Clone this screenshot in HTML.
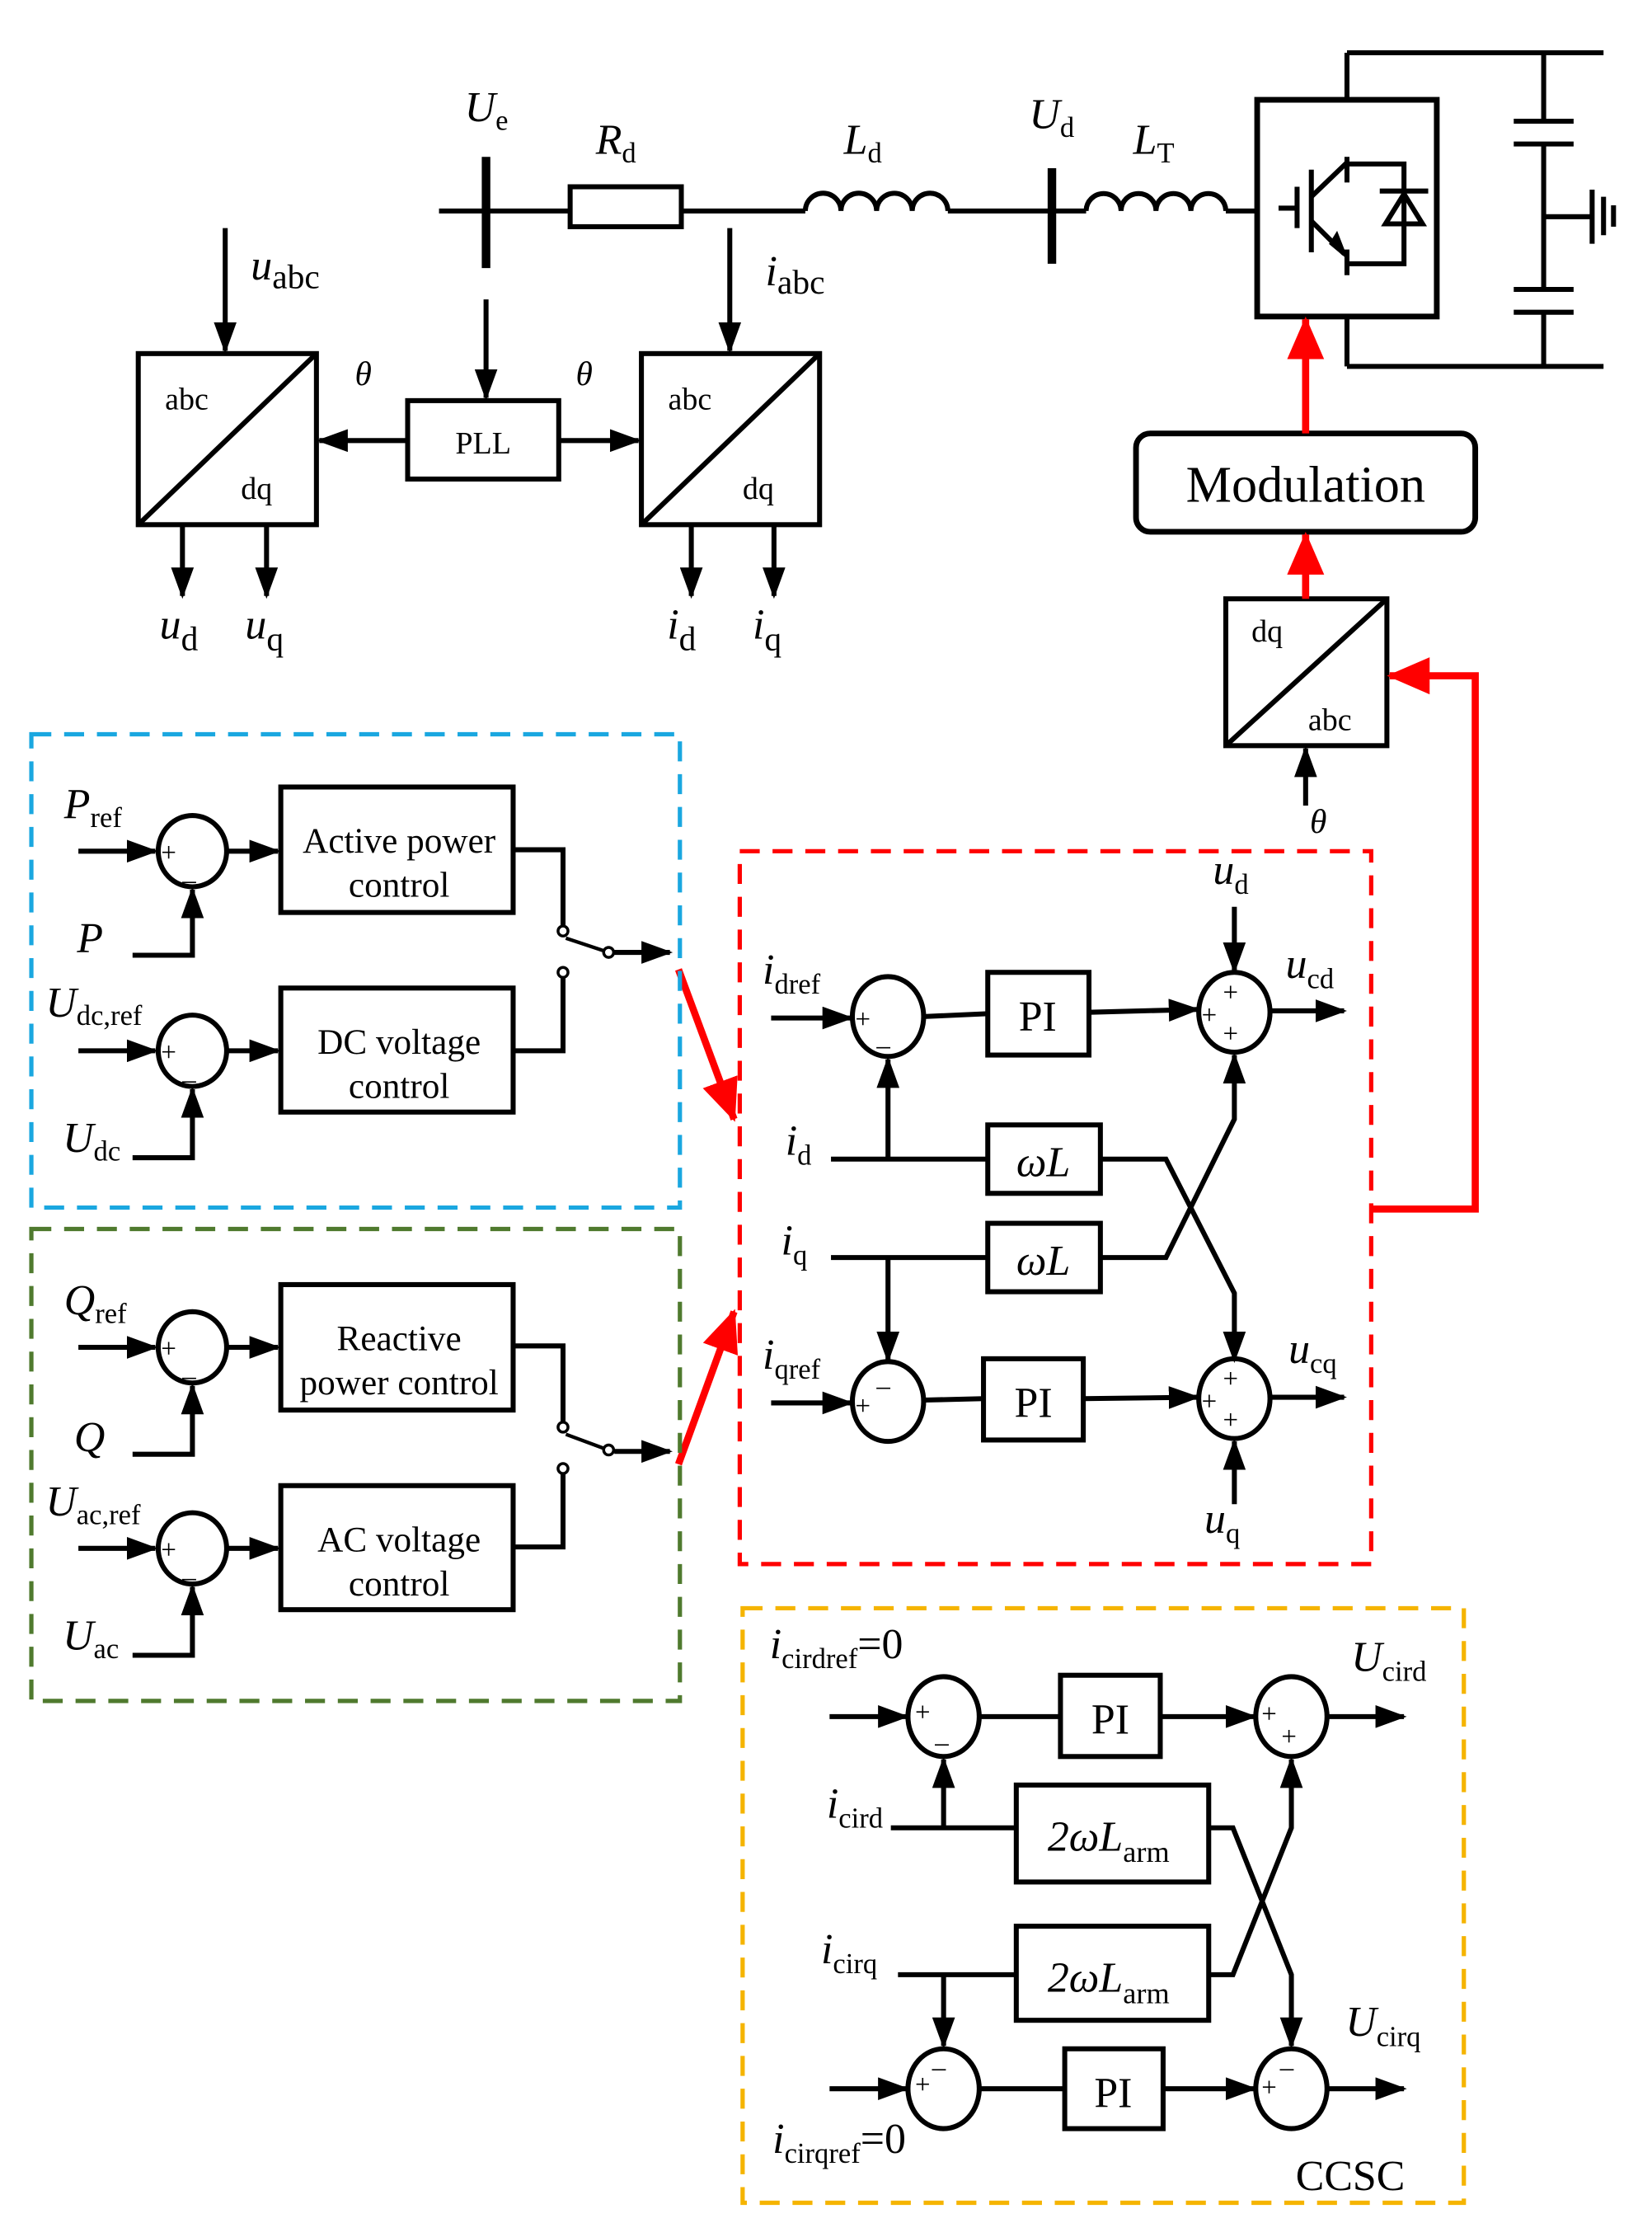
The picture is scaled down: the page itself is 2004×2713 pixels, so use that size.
<!DOCTYPE html>
<html><head><meta charset="utf-8"><style>
html,body{margin:0;padding:0;background:#fff;}
svg{display:block;}
text{font-family:"Liberation Serif",serif;fill:#000;}
.i{font-style:italic;}
</style></head><body>
<svg width="2004" height="2713" viewBox="0 0 1159 1569" preserveAspectRatio="none" xmlns="http://www.w3.org/2000/svg">
<defs>
<marker id="a" markerUnits="userSpaceOnUse" markerWidth="22" markerHeight="16" refX="20" refY="8" orient="auto"><path d="M0,0 L22,8 L0,16 Z" fill="#000"/></marker>
<marker id="r" markerUnits="userSpaceOnUse" markerWidth="30" markerHeight="26" refX="28" refY="13" orient="auto"><path d="M0,0 L30,13 L0,26 Z" fill="#f00"/></marker>
</defs>
<g stroke="#000" stroke-width="3.5" fill="none">
<line x1="308" y1="148" x2="400" y2="148"/>
<rect x="400" y="131" width="78" height="28"/>
<line x1="478" y1="148" x2="565" y2="148"/>
<path d="M565,148 a12,12 0 0 1 25,0 a12,12 0 0 1 25,0 a12,12 0 0 1 25,0 a12,12 0 0 1 25,0"/>
<line x1="665" y1="148" x2="762" y2="148"/>
<path d="M762,148 a12,12 0 0 1 24.5,0 a12,12 0 0 1 24.5,0 a12,12 0 0 1 24.5,0 a12,12 0 0 1 24.5,0"/>
<line x1="860" y1="148" x2="882" y2="148"/>
<line x1="341" y1="110" x2="341" y2="188" stroke-width="6"/>
<line x1="738" y1="118" x2="738" y2="185" stroke-width="6"/>
<rect x="882" y="70" width="126" height="152" stroke-width="4"/>
<line x1="945" y1="37" x2="945" y2="70"/><line x1="945" y1="37" x2="1125" y2="37"/>
<line x1="945" y1="222" x2="945" y2="257"/><line x1="945" y1="257" x2="1125" y2="257"/>
<line x1="1083" y1="37" x2="1083" y2="85"/><line x1="1083" y1="101" x2="1083" y2="203"/><line x1="1083" y1="219" x2="1083" y2="257"/>
<line x1="1062" y1="85" x2="1104" y2="85"/><line x1="1062" y1="101" x2="1104" y2="101"/>
<line x1="1062" y1="203" x2="1104" y2="203"/><line x1="1062" y1="219" x2="1104" y2="219"/>
<line x1="1083" y1="152" x2="1117" y2="152"/>
<line x1="1117" y1="133" x2="1117" y2="171"/><line x1="1125" y1="138" x2="1125" y2="165"/><line x1="1132" y1="144" x2="1132" y2="159"/>
<line x1="897" y1="146" x2="910" y2="146"/><line x1="910" y1="131" x2="910" y2="160"/>
<line x1="920" y1="119" x2="920" y2="177"/>
<line x1="920" y1="138" x2="945" y2="114"/><line x1="945" y1="110" x2="945" y2="128"/>
<line x1="920" y1="155" x2="943" y2="178"/><line x1="945" y1="175" x2="945" y2="193"/>
<path d="M933,171 L945,181 L938,163 Z" fill="#000" stroke-width="1"/>
<path d="M945,115 L985,115 L985,185 L945,185"/>
<line x1="968" y1="134" x2="1002" y2="134"/>
<path d="M985,136 L972,157 L998,157 Z"/>
<rect x="97" y="248" width="125" height="120"/><line x1="97" y1="368" x2="222" y2="248"/>
<rect x="450" y="248" width="125" height="120"/><line x1="450" y1="368" x2="575" y2="248"/>
<rect x="286" y="281" width="106" height="55"/>
<line x1="286" y1="309" x2="224" y2="309" marker-end="url(#a)"/>
<line x1="392" y1="309" x2="448" y2="309" marker-end="url(#a)"/>
<line x1="341" y1="210" x2="341" y2="279" marker-end="url(#a)"/>
<line x1="158" y1="160" x2="158" y2="246" marker-end="url(#a)"/>
<line x1="512" y1="160" x2="512" y2="246" marker-end="url(#a)"/>
<line x1="128" y1="368" x2="128" y2="418" marker-end="url(#a)"/>
<line x1="187" y1="368" x2="187" y2="418" marker-end="url(#a)"/>
<line x1="485" y1="368" x2="485" y2="418" marker-end="url(#a)"/>
<line x1="543" y1="368" x2="543" y2="418" marker-end="url(#a)"/>
<rect x="797" y="304" width="238" height="69" rx="10" stroke-width="4"/>
<rect x="860" y="420" width="113" height="103"/><line x1="860" y1="523" x2="973" y2="420"/>
<line x1="916" y1="565" x2="916" y2="525" marker-end="url(#a)"/>
</g>
<g stroke="#f00" stroke-width="5" fill="none">
<line x1="916" y1="304" x2="916" y2="224" marker-end="url(#r)"/>
<line x1="916" y1="420" x2="916" y2="375" marker-end="url(#r)"/>
<polyline points="962,848 1035,848 1035,474 975,474" marker-end="url(#r)"/>
<line x1="476" y1="680" x2="515" y2="785" marker-end="url(#r)"/>
<line x1="476" y1="1027" x2="515" y2="920" marker-end="url(#r)"/>
</g>
<g fill="none" stroke-width="3" stroke-dasharray="14,9">
<rect x="22" y="515" width="455" height="332" stroke="#1aa7e0"/>
<rect x="22" y="862" width="455" height="331" stroke="#4f7a2e"/>
<rect x="519" y="597" width="443" height="500" stroke="#f00"/>
<rect x="521" y="1128" width="506" height="417" stroke="#f5b400"/>
</g>
<g stroke="#000" stroke-width="3.5" fill="none">
<ellipse cx="135" cy="597" rx="24" ry="25"/>
<line x1="55" y1="597" x2="109" y2="597" marker-end="url(#a)"/>
<polyline points="93,670 135,670 135,624" marker-end="url(#a)"/>
<line x1="159" y1="597" x2="195" y2="597" marker-end="url(#a)"/>
<rect x="197" y="552" width="163" height="88"/>
<ellipse cx="135" cy="737" rx="24" ry="25"/>
<line x1="55" y1="737" x2="109" y2="737" marker-end="url(#a)"/>
<polyline points="93,812 135,812 135,764" marker-end="url(#a)"/>
<line x1="159" y1="737" x2="195" y2="737" marker-end="url(#a)"/>
<rect x="197" y="693" width="163" height="87"/>
<polyline points="360,596 395,596 395,649"/>
<polyline points="360,737 395,737 395,686"/>
<circle cx="395" cy="653" r="3.5" stroke-width="2"/><circle cx="395" cy="682" r="3.5" stroke-width="2"/>
<circle cx="427" cy="668" r="3.5" stroke-width="2"/>
<line x1="397" y1="658" x2="424" y2="667" stroke-width="2.5"/>
<line x1="431" y1="668" x2="470" y2="668" marker-end="url(#a)"/>
<ellipse cx="135" cy="945" rx="24" ry="25"/>
<line x1="55" y1="945" x2="109" y2="945" marker-end="url(#a)"/>
<polyline points="93,1020 135,1020 135,972" marker-end="url(#a)"/>
<line x1="159" y1="945" x2="195" y2="945" marker-end="url(#a)"/>
<rect x="197" y="901" width="163" height="88"/>
<ellipse cx="135" cy="1086" rx="24" ry="25"/>
<line x1="55" y1="1086" x2="109" y2="1086" marker-end="url(#a)"/>
<polyline points="93,1161 135,1161 135,1113" marker-end="url(#a)"/>
<line x1="159" y1="1086" x2="195" y2="1086" marker-end="url(#a)"/>
<rect x="197" y="1042" width="163" height="87"/>
<polyline points="360,944 395,944 395,997"/>
<polyline points="360,1085 395,1085 395,1034"/>
<circle cx="395" cy="1001" r="3.5" stroke-width="2"/><circle cx="395" cy="1030" r="3.5" stroke-width="2"/>
<circle cx="427" cy="1017" r="3.5" stroke-width="2"/>
<line x1="397" y1="1006" x2="424" y2="1016" stroke-width="2.5"/>
<line x1="431" y1="1018" x2="470" y2="1018" marker-end="url(#a)"/>
<ellipse cx="623" cy="713" rx="25" ry="28"/>
<line x1="541" y1="714" x2="597" y2="714" marker-end="url(#a)"/>
<line x1="648" y1="713" x2="693" y2="711"/>
<rect x="693" y="682" width="71" height="58"/>
<line x1="764" y1="710" x2="840" y2="708" marker-end="url(#a)"/>
<ellipse cx="866" cy="710" rx="25" ry="28"/>
<line x1="891" y1="709" x2="943" y2="709" marker-end="url(#a)"/>
<line x1="866" y1="636" x2="866" y2="681" marker-end="url(#a)"/>
<line x1="583" y1="813" x2="693" y2="813"/>
<line x1="623" y1="813" x2="623" y2="743" marker-end="url(#a)"/>
<rect x="693" y="789" width="79" height="48"/>
<line x1="583" y1="882" x2="693" y2="882"/>
<line x1="623" y1="882" x2="623" y2="954" marker-end="url(#a)"/>
<rect x="693" y="858" width="79" height="48"/>
<polyline points="772,813 818,813 866,907 866,954" marker-end="url(#a)"/>
<polyline points="772,882 818,882 866,785 866,740" marker-end="url(#a)"/>
<ellipse cx="623" cy="983" rx="25" ry="28"/>
<line x1="541" y1="984" x2="597" y2="984" marker-end="url(#a)"/>
<line x1="648" y1="982" x2="690" y2="981"/>
<rect x="690" y="953" width="70" height="57"/>
<line x1="760" y1="981" x2="840" y2="980" marker-end="url(#a)"/>
<ellipse cx="866" cy="981" rx="25" ry="28"/>
<line x1="891" y1="980" x2="943" y2="980" marker-end="url(#a)"/>
<line x1="866" y1="1055" x2="866" y2="1011" marker-end="url(#a)"/>
<ellipse cx="662" cy="1204" rx="25" ry="28"/>
<line x1="582" y1="1204" x2="636" y2="1204" marker-end="url(#a)"/>
<line x1="687" y1="1204" x2="744" y2="1204"/>
<rect x="744" y="1175" width="70" height="57"/>
<line x1="814" y1="1204" x2="880" y2="1204" marker-end="url(#a)"/>
<ellipse cx="906" cy="1204" rx="25" ry="28"/>
<line x1="931" y1="1204" x2="985" y2="1204" marker-end="url(#a)"/>
<line x1="625" y1="1282" x2="713" y2="1282"/>
<line x1="662" y1="1282" x2="662" y2="1234" marker-end="url(#a)"/>
<rect x="713" y="1252" width="135" height="68"/>
<line x1="630" y1="1385" x2="713" y2="1385"/>
<line x1="662" y1="1385" x2="662" y2="1435" marker-end="url(#a)"/>
<rect x="713" y="1351" width="135" height="66"/>
<polyline points="848,1282 865,1282 906,1385 906,1435" marker-end="url(#a)"/>
<polyline points="848,1385 865,1385 906,1282 906,1234" marker-end="url(#a)"/>
<ellipse cx="662" cy="1465" rx="25" ry="28"/>
<line x1="582" y1="1465" x2="636" y2="1465" marker-end="url(#a)"/>
<line x1="687" y1="1465" x2="747" y2="1465"/>
<rect x="747" y="1437" width="69" height="56"/>
<line x1="816" y1="1465" x2="880" y2="1465" marker-end="url(#a)"/>
<ellipse cx="906" cy="1465" rx="25" ry="28"/>
<line x1="931" y1="1465" x2="985" y2="1465" marker-end="url(#a)"/>
</g>
<g font-size="19" font-family="Liberation Sans,sans-serif">
<text x="113" y="604">+</text><text x="128" y="617">_</text>
<text x="113" y="744">+</text><text x="128" y="757">_</text>
<text x="113" y="952">+</text><text x="128" y="965">_</text>
<text x="113" y="1093">+</text><text x="128" y="1106">_</text>
<text x="600" y="721">+</text><text x="615" y="733">_</text>
<text x="858" y="702">+</text><text x="843" y="718">+</text><text x="858" y="731">+</text>
<text x="600" y="992">+</text><text x="615" y="972">_</text>
<text x="858" y="973">+</text><text x="843" y="989">+</text><text x="858" y="1002">+</text>
<text x="642" y="1207">+</text><text x="656" y="1222">_</text>
<text x="885" y="1208">+</text><text x="899" y="1224">+</text>
<text x="642" y="1468">+</text><text x="654" y="1450">_</text>
<text x="885" y="1470">+</text><text x="898" y="1450">_</text>
</g>
<g font-size="30">
<text x="326" y="85" class="i">U<tspan font-size="20" font-style="normal" dy="6">e</tspan></text>
<text x="418" y="108" class="i">R<tspan font-size="20" font-style="normal" dy="6">d</tspan></text>
<text x="592" y="108" class="i">L<tspan font-size="20" font-style="normal" dy="6">d</tspan></text>
<text x="722" y="90" class="i">U<tspan font-size="20" font-style="normal" dy="6">d</tspan></text>
<text x="795" y="108" class="i">L<tspan font-size="20" font-style="normal" dy="6">T</tspan></text>
<text x="176" y="196" class="i">u<tspan font-size="24" font-style="normal" dy="6">abc</tspan></text>
<text x="537" y="200" class="i">i<tspan font-size="24" font-style="normal" dy="6">abc</tspan></text>
<text x="249" y="270" font-size="24" class="i">θ</text>
<text x="404" y="270" font-size="24" class="i">θ</text>
<text x="919" y="584" font-size="24" class="i">θ</text>
<text x="112" y="448" class="i">u<tspan font-size="24" font-style="normal" dy="8">d</tspan></text>
<text x="172" y="448" class="i">u<tspan font-size="24" font-style="normal" dy="8">q</tspan></text>
<text x="468" y="448" class="i">i<tspan font-size="24" font-style="normal" dy="8">d</tspan></text>
<text x="528" y="448" class="i">i<tspan font-size="24" font-style="normal" dy="8">q</tspan></text>
<g font-size="22" text-anchor="middle">
<text x="131" y="287">abc</text><text x="180" y="350">dq</text>
<text x="484" y="287">abc</text><text x="532" y="350">dq</text>
<text x="339" y="318">PLL</text>
<text x="889" y="450">dq</text><text x="933" y="512">abc</text>
</g>
<text x="916" y="352" font-size="36" text-anchor="middle" font-family="Liberation Sans,sans-serif">Modulation</text>
<g font-size="25" text-anchor="middle">
<text x="280" y="598">Active power</text><text x="280" y="629">control</text>
<text x="280" y="739">DC voltage</text><text x="280" y="770">control</text>
<text x="280" y="947">Reactive</text><text x="280" y="978">power control</text>
<text x="280" y="1088">AC voltage</text><text x="280" y="1119">control</text>
</g>
<text x="45" y="574" class="i">P<tspan font-size="20" font-style="normal" dy="6">ref</tspan></text>
<text x="54" y="668" class="i">P</text>
<text x="32" y="713" class="i">U<tspan font-size="20" font-style="normal" dy="6">dc,ref</tspan></text>
<text x="44" y="808" class="i">U<tspan font-size="20" font-style="normal" dy="6">dc</tspan></text>
<text x="45" y="922" class="i">Q<tspan font-size="20" font-style="normal" dy="6">ref</tspan></text>
<text x="52" y="1018" class="i">Q</text>
<text x="32" y="1063" class="i">U<tspan font-size="20" font-style="normal" dy="6">ac,ref</tspan></text>
<text x="44" y="1157" class="i">U<tspan font-size="20" font-style="normal" dy="6">ac</tspan></text>
<text x="535" y="690" class="i">i<tspan font-size="20" font-style="normal" dy="7">dref</tspan></text>
<text x="551" y="810" class="i">i<tspan font-size="20" font-style="normal" dy="7">d</tspan></text>
<text x="548" y="880" class="i">i<tspan font-size="20" font-style="normal" dy="7">q</tspan></text>
<text x="535" y="960" class="i">i<tspan font-size="20" font-style="normal" dy="7">qref</tspan></text>
<text x="851" y="620" class="i">u<tspan font-size="20" font-style="normal" dy="7">d</tspan></text>
<text x="902" y="686" class="i">u<tspan font-size="20" font-style="normal" dy="7">cd</tspan></text>
<text x="904" y="956" class="i">u<tspan font-size="20" font-style="normal" dy="7">cq</tspan></text>
<text x="845" y="1075" class="i">u<tspan font-size="20" font-style="normal" dy="7">q</tspan></text>
<text x="728" y="723" text-anchor="middle" font-size="30">PI</text>
<text x="725" y="994" text-anchor="middle" font-size="30">PI</text>
<text x="732" y="825" text-anchor="middle" class="i">ωL</text>
<text x="732" y="894" text-anchor="middle" class="i">ωL</text>
<text x="779" y="1216" text-anchor="middle" font-size="30">PI</text>
<text x="781" y="1478" text-anchor="middle" font-size="30">PI</text>
<text x="735" y="1298" class="i">2ωL<tspan font-size="21" font-style="normal" dy="8">arm</tspan></text>
<text x="735" y="1397" class="i">2ωL<tspan font-size="21" font-style="normal" dy="8">arm</tspan></text>
<text x="540" y="1163" class="i">i<tspan font-size="20" font-style="normal" dy="7">cirdref</tspan><tspan font-style="normal" dy="-7">=0</tspan></text>
<text x="580" y="1275" class="i">i<tspan font-size="20" font-style="normal" dy="7">cird</tspan></text>
<text x="576" y="1377" class="i">i<tspan font-size="20" font-style="normal" dy="7">cirq</tspan></text>
<text x="542" y="1510" class="i">i<tspan font-size="20" font-style="normal" dy="7">cirqref</tspan><tspan font-style="normal" dy="-7">=0</tspan></text>
<text x="948" y="1172" class="i">U<tspan font-size="20" font-style="normal" dy="7">cird</tspan></text>
<text x="944" y="1428" class="i">U<tspan font-size="20" font-style="normal" dy="7">cirq</tspan></text>
<text x="909" y="1536">CCSC</text>
</g>
</svg>
</body></html>
